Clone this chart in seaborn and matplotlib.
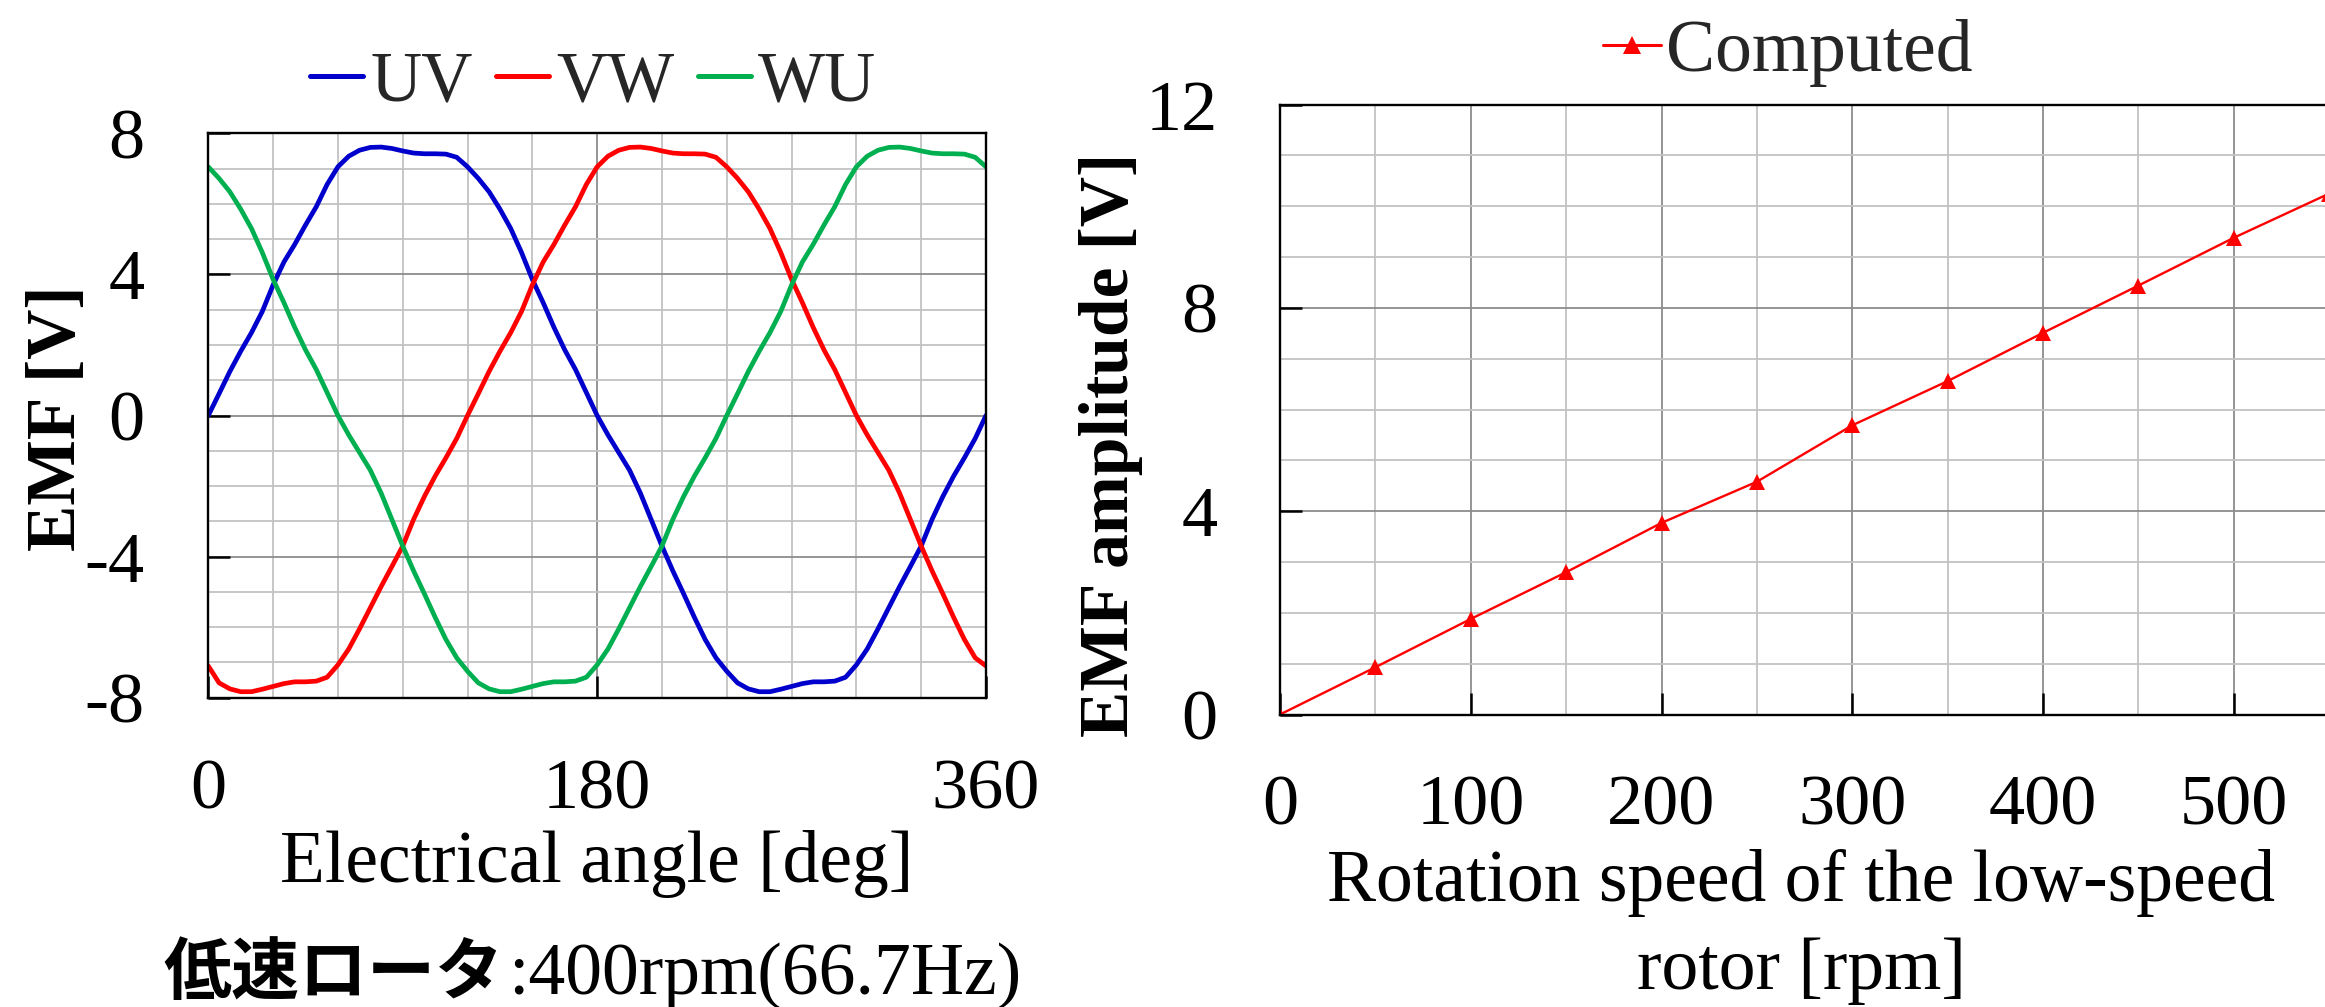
import matplotlib
matplotlib.use("Agg")
import matplotlib.pyplot as plt
from matplotlib.ticker import MultipleLocator, FixedLocator
from matplotlib.lines import Line2D
import seaborn as sns
import pandas as pd

# ---------------- data ----------------
angle = list(range(0, 361, 5))
UV = [0.00, 0.62, 1.25, 1.82, 2.35, 2.95, 3.70, 4.35, 4.85, 5.40, 5.92, 6.55, 7.05,
      7.35, 7.52, 7.60, 7.61, 7.57, 7.50, 7.44, 7.42, 7.42, 7.41, 7.32, 7.05,
      6.72, 6.34, 5.85, 5.30, 4.62, 3.86, 3.20, 2.50, 1.86, 1.30, 0.65, 0.00,
      -0.55, -1.05, -1.55, -2.20, -2.95, -3.70, -4.40, -5.05, -5.72, -6.35, -6.87, -7.25,
      -7.58, -7.75, -7.83, -7.83, -7.76, -7.68, -7.60, -7.55, -7.55, -7.53, -7.42, -7.07,
      -6.62, -6.05, -5.45, -4.85, -4.28, -3.70, -2.95, -2.30, -1.72, -1.20, -0.65, 0.00]
VW = [-7.10, -7.58, -7.75, -7.83, -7.83, -7.76, -7.68, -7.60, -7.55, -7.55, -7.53, -7.42, -7.07,
      -6.62, -6.05, -5.45, -4.85, -4.28, -3.70, -2.95, -2.30, -1.72, -1.20, -0.65, 0.00,
      0.62, 1.25, 1.82, 2.35, 2.95, 3.70, 4.35, 4.85, 5.40, 5.92, 6.55, 7.05,
      7.35, 7.52, 7.60, 7.61, 7.57, 7.50, 7.44, 7.42, 7.42, 7.41, 7.32, 7.05,
      6.72, 6.34, 5.85, 5.30, 4.62, 3.86, 3.20, 2.50, 1.86, 1.30, 0.65, 0.00,
      -0.55, -1.05, -1.55, -2.20, -2.95, -3.70, -4.40, -5.05, -5.72, -6.35, -6.87, -7.10]
WU = [7.05, 6.72, 6.34, 5.85, 5.30, 4.62, 3.86, 3.20, 2.50, 1.86, 1.30, 0.65, 0.00,
      -0.55, -1.05, -1.55, -2.20, -2.95, -3.70, -4.40, -5.05, -5.72, -6.35, -6.87, -7.25,
      -7.58, -7.75, -7.83, -7.83, -7.76, -7.68, -7.60, -7.55, -7.55, -7.53, -7.42, -7.07,
      -6.62, -6.05, -5.45, -4.85, -4.28, -3.70, -2.95, -2.30, -1.72, -1.20, -0.65, 0.00,
      0.62, 1.25, 1.82, 2.35, 2.95, 3.70, 4.35, 4.85, 5.40, 5.92, 6.55, 7.05,
      7.35, 7.52, 7.60, 7.61, 7.57, 7.50, 7.44, 7.42, 7.42, 7.41, 7.32, 7.05]
phase_names = ["UV", "VW", "WU"]
phase_colors = ["#0000cc", "#ff0000", "#00b050"]

speed = [0, 50, 100, 150, 200, 250, 300, 350, 400, 450, 500, 550]
amplitude = [0.00, 0.93, 1.88, 2.80, 3.77, 4.58, 5.69, 6.56, 7.51, 8.44, 9.38, 10.25]
series_name = "Computed"

left_xticks = [0, 180, 360]
left_yticks = [-8, -4, 0, 4, 8]
left_yticklabels = ["-8", "-4", "0", "4", "8"]
right_xticks = [0, 100, 200, 300, 400, 500]
right_yticks = [0, 4, 8, 12]

caption_jp = "低速ロータ"
caption_rest = ":400rpm(66.7Hz)"

# ---------------- figure ----------------
W, H, DPI = 2325, 1007, 100
sns.set_theme(style="white")
plt.rcParams["font.family"] = ["Liberation Serif", "Noto Sans CJK JP", "DejaVu Sans"]
plt.rcParams["axes.unicode_minus"] = False

fig = plt.figure(figsize=(W / DPI, H / DPI), dpi=DPI)
fig.patch.set_facecolor("white")


def px_axes(l, t, r, b):
    return fig.add_axes([l / W, 1 - b / H, (r - l) / W, (b - t) / H])


ax1 = px_axes(208.3, 133.3, 986.0, 697.7)
ax2 = px_axes(1280.0, 104.6, 2424.6, 714.5)


def style(ax, xmaj, xmin, ymaj, ymin, xpad, ypad):
    ax.set_facecolor("white")
    ax.set_axisbelow(True)
    ax.xaxis.set_major_locator(FixedLocator(xmaj))
    ax.xaxis.set_minor_locator(MultipleLocator(xmin))
    ax.yaxis.set_major_locator(FixedLocator(ymaj))
    ax.yaxis.set_minor_locator(MultipleLocator(ymin))
    ax.grid(which="minor", color="#c3c3c3", lw=1.3)
    ax.grid(which="major", color="#8c8c8c", lw=1.3)
    ax.tick_params(which="major", direction="in", length=16, width=1.8,
                   color="black", labelsize=52, labelcolor="black",
                   bottom=True, left=True, top=False, right=False)
    ax.tick_params(axis="x", which="major", pad=xpad)
    ax.tick_params(axis="y", which="major", pad=ypad)
    ax.tick_params(which="minor", length=0, bottom=False, left=False)
    for s in ax.spines.values():
        s.set_color("black")
        s.set_linewidth(1.7)
        s.set_visible(True)


# ---- left chart: three-phase EMF ----
df = pd.DataFrame({
    "angle": angle * 3,
    "emf": UV + VW + WU,
    "phase": [phase_names[0]] * len(UV) + [phase_names[1]] * len(VW) + [phase_names[2]] * len(WU),
})
sns.lineplot(data=df, x="angle", y="emf", hue="phase", hue_order=phase_names,
             palette=dict(zip(phase_names, phase_colors)), lw=3.4,
             errorbar=None, legend=False, ax=ax1)
ax1.set_xlim(0, 360)
ax1.set_ylim(-8, 8)
style(ax1, left_xticks, 30, left_yticks, 1, 44, 46)
ax1.set_yticklabels(left_yticklabels)
ax1.set_xlabel("Electrical angle [deg]", fontsize=53, color="black")
ax1.xaxis.set_label_coords(0.5, -0.2339)
ax1.set_ylabel("EMF [V]", fontsize=50, fontweight="bold", color="black")
ax1.yaxis.set_label_coords(-0.1521, 0.4956)

h1 = [Line2D([], [], color=c, lw=3.6) for c in phase_colors]
fig.legend(h1, phase_names, loc="center", bbox_to_anchor=(593 / W, 1 - 83 / H),
           ncol=3, frameon=False, fontsize=51, handlelength=0.75,
           handletextpad=0.1, columnspacing=0.33, borderpad=0, borderaxespad=0)

# ---- right chart: amplitude vs speed ----
df2 = pd.DataFrame({"speed": speed, "amp": amplitude})
sns.lineplot(data=df2, x="speed", y="amp", color="#ff0000", lw=1.7, marker="^",
             markersize=12, markeredgewidth=0, errorbar=None, ax=ax2)
ax2.set_xlim(0, 600)
ax2.set_ylim(0, 12)
style(ax2, right_xticks, 50, right_yticks, 1, 43.5, 45)
ax2.set_xlabel("Rotation speed of the low-speed\nrotor [rpm]", fontsize=53,
               color="black", linespacing=1.4)
ax2.xaxis.set_label_coords(0.4552, -0.2200)
ax2.set_ylabel("EMF amplitude [V]", fontsize=50, fontweight="bold", color="black")
ax2.yaxis.set_label_coords(-0.1197, 0.4419)

h2 = [Line2D([], [], color="#ff0000", lw=2.2, marker="^", markersize=13, markeredgewidth=0)]
fig.legend(h2, [series_name], loc="center", bbox_to_anchor=(1788 / W, 1 - 53 / H),
           frameon=False, fontsize=53, handlelength=0.78, handletextpad=0.08,
           borderpad=0, borderaxespad=0)

# ---- caption ----
fig.text(503 / W, 1 - 994 / H, caption_jp, ha="right", va="baseline",
         family=["Noto Sans CJK JP", "DejaVu Sans"], weight="bold", fontsize=49, color="black")
fig.text(508 / W, 1 - 994 / H, caption_rest, ha="left", va="baseline",
         family=["Liberation Serif", "DejaVu Sans"], fontsize=53, color="black")

fig.savefig("out.png", dpi=DPI, facecolor="white")
